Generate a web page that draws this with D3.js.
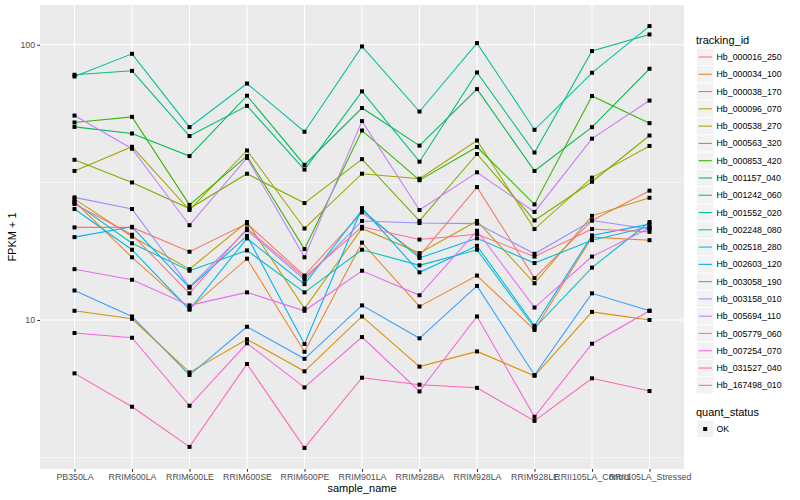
<!DOCTYPE html>
<html>
<head>
<meta charset="utf-8">
<title>FPKM + 1 by sample_name</title>
<style>
    body {
        margin: 0;
        background: #ffffff;
    }
    svg {
        display: block;
        font-family: "Liberation Sans", Arial, Helvetica, sans-serif;
    }
    .tick text {
        font-size: 8.8px;
        fill: #4d4d4d;
    }
    .tick line {
        stroke: #333333;
        stroke-width: 1.07px;
    }
    .axis-title, .legend-title {
        font-size: 11px;
        fill: #000000;
    }
    .legend-label {
        font-size: 8.8px;
        fill: #000000;
    }
</style>
</head>
<body>
<div id="chart"></div>

<script src="https://cdnjs.cloudflare.com/ajax/libs/d3/7.8.5/d3.min.js"></script>
<script>
    // categories on the x axis
    const samples = ["PB350LA", "RRIM600LA", "RRIM600LE", "RRIM600SE", "RRIM600PE", "RRIM901LA",
        "RRIM928BA", "RRIM928LA", "RRIM928LE", "RRII105LA_Control", "RRII105LA_Stressed"];

    const trackingIds = ["Hb_000016_250", "Hb_000034_100", "Hb_000038_170", "Hb_000096_070",
        "Hb_000538_270", "Hb_000563_320", "Hb_000853_420", "Hb_001157_040", "Hb_001242_060",
        "Hb_001552_020", "Hb_002248_080", "Hb_002518_280", "Hb_002603_120", "Hb_003058_190",
        "Hb_003158_010", "Hb_005694_110", "Hb_005779_060", "Hb_007254_070", "Hb_031527_040",
        "Hb_167498_010"];

    // FPKM + 1, one value per sample
    const hb_000016_250 = [21.7, 21.7, 17.7, 22.4, 14.5, 24.6, 17.1, 30.4, 14.2, 23.0, 29.5];
    const hb_000034_100 = [26.9, 16.9, 11.0, 16.7, 7.67, 19.1, 11.2, 14.5, 9.20, 20.0, 19.5];
    const hb_000038_170 = [10.8, 10.1, 6.45, 8.51, 6.51, 10.3, 6.77, 7.69, 6.27, 10.7, 10.0];
    const hb_000096_070 = [27.5, 20.1, 15.3, 22.7, 11.0, 21.5, 17.5, 22.9, 13.6, 23.9, 27.8];
    const hb_000538_270 = [34.8, 42.6, 25.1, 41.3, 21.5, 34.0, 32.6, 44.9, 21.4, 32.9, 42.9];
    const hb_000563_320 = [38.2, 31.6, 25.4, 34.0, 26.6, 38.4, 22.9, 40.1, 23.0, 31.8, 46.8];
    const hb_000853_420 = [52.2, 54.7, 26.2, 39.4, 18.1, 48.8, 32.2, 42.5, 26.3, 65.1, 51.9];
    const hb_001157_040 = [50.3, 47.6, 39.4, 65.3, 36.6, 58.9, 43.0, 69.0, 34.8, 50.2, 81.8];
    const hb_001242_060 = [77.8, 80.4, 46.6, 60.0, 35.2, 67.7, 37.6, 79.3, 40.6, 94.9, 109.0];
    const hb_001552_020 = [76.7, 92.7, 50.2, 72.3, 48.3, 98.6, 57.2, 101.4, 49.1, 79.1, 116.9];
    const hb_002248_080 = [26.7, 19.0, 15.1, 17.9, 12.6, 18.0, 15.8, 18.0, 9.35, 15.5, 22.7];
    const hb_002518_280 = [25.3, 18.0, 10.9, 19.8, 13.5, 25.1, 16.8, 19.8, 16.1, 19.5, 21.8];
    const hb_002603_120 = [20.0, 21.8, 13.1, 20.2, 8.18, 25.5, 14.9, 18.6, 9.53, 20.3, 22.3];
    const hb_003058_190 = [12.8, 10.3, 6.31, 9.45, 7.23, 11.3, 8.58, 13.3, 6.31, 12.5, 10.8];
    const hb_003158_010 = [27.9, 25.3, 13.2, 21.2, 14.0, 22.9, 22.5, 22.4, 17.4, 23.0, 21.4];
    const hb_005694_110 = [55.3, 41.9, 22.1, 38.8, 16.9, 52.8, 25.1, 34.4, 24.7, 45.6, 62.7];
    const hb_005779_060 = [15.3, 14.0, 11.3, 12.6, 10.8, 15.1, 12.3, 21.1, 11.1, 17.0, 21.6];
    const hb_007254_070 = [8.97, 8.62, 4.88, 8.23, 5.69, 8.67, 5.50, 10.3, 4.45, 8.20, 10.8];
    const hb_031527_040 = [6.40, 4.84, 3.46, 6.92, 3.43, 6.17, 5.82, 5.67, 4.30, 6.14, 5.52];
    const hb_167498_010 = [26.4, 20.4, 12.5, 21.5, 14.3, 21.8, 19.6, 20.5, 17.0, 21.4, 20.9];

    const seriesValues = [hb_000016_250, hb_000034_100, hb_000038_170, hb_000096_070,
        hb_000538_270, hb_000563_320, hb_000853_420, hb_001157_040, hb_001242_060,
        hb_001552_020, hb_002248_080, hb_002518_280, hb_002603_120, hb_003058_190,
        hb_003158_010, hb_005694_110, hb_005779_060, hb_007254_070, hb_031527_040,
        hb_167498_010];

    const yTicks = [10, 100];
    const yMinor = [Math.sqrt(10), Math.pow(10, 1.5)];

    // ggplot default hue palette for 20 groups
    const palette = ["#F8766D", "#EA8331", "#D89000", "#C09B00", "#A3A500", "#7CAE00", "#39B600",
        "#00BB4E", "#00BF7D", "#00C1A3", "#00BFC4", "#00BAE0", "#00B0F6", "#35A2FF", "#9590FF",
        "#C77CFF", "#E76BF3", "#FA62DB", "#FF62BC", "#FF6C91"];

    const series = trackingIds.map((id, i) => ({
        id: id,
        color: palette[i],
        points: samples.map((s, j) => ({ sample: s, value: seriesValues[i][j] }))
    }));

    // layout
    const W = 800, H = 500;
    const panel = { left: 40, right: 684, top: 5, bottom: 469 };

    const svg = d3.select("#chart")
        .append("svg")
        .attr("width", W)
        .attr("height", H);

    const x = d3.scalePoint()
        .domain(samples)
        .range([panel.left, panel.right])
        .padding(0.6);

    // log scale with 5% expansion in log space, like ggplot
    const allVals = seriesValues.flat();
    const lmin = Math.log10(d3.min(allVals));
    const lmax = Math.log10(d3.max(allVals));
    const pad = (lmax - lmin) * 0.05;
    const y = d3.scaleLog()
        .domain([Math.pow(10, lmin - pad), Math.pow(10, lmax + pad)])
        .range([panel.bottom, panel.top]);

    // panel background + grid
    svg.append("rect")
        .attr("x", panel.left)
        .attr("y", panel.top)
        .attr("width", panel.right - panel.left)
        .attr("height", panel.bottom - panel.top)
        .attr("fill", "#EBEBEB");

    svg.selectAll(".grid-minor")
        .data(yMinor)
        .enter().append("line")
        .attr("x1", panel.left).attr("x2", panel.right)
        .attr("y1", d => y(d)).attr("y2", d => y(d))
        .attr("stroke", "#ffffff").attr("stroke-width", 0.53);

    svg.selectAll(".grid-major-y")
        .data(yTicks)
        .enter().append("line")
        .attr("x1", panel.left).attr("x2", panel.right)
        .attr("y1", d => y(d)).attr("y2", d => y(d))
        .attr("stroke", "#ffffff").attr("stroke-width", 1.07);

    svg.selectAll(".grid-major-x")
        .data(samples)
        .enter().append("line")
        .attr("x1", d => x(d)).attr("x2", d => x(d))
        .attr("y1", panel.top).attr("y2", panel.bottom)
        .attr("stroke", "#ffffff").attr("stroke-width", 1.07);

    // lines
    const line = d3.line()
        .x(d => x(d.sample))
        .y(d => y(d.value));

    svg.append("g")
        .selectAll("path")
        .data(series)
        .enter().append("path")
        .attr("d", d => line(d.points))
        .attr("fill", "none")
        .attr("stroke", d => d.color)
        .attr("stroke-width", 1.07);

    // points (quant_status = OK, square)
    svg.append("g")
        .selectAll("rect")
        .data(series.flatMap(s => s.points))
        .enter().append("rect")
        .attr("x", d => x(d.sample) - 2)
        .attr("y", d => y(d.value) - 2)
        .attr("width", 4)
        .attr("height", 4)
        .attr("fill", "#000000");

    // axes
    const xAxis = svg.append("g")
        .attr("transform", `translate(0,${panel.bottom})`)
        .call(d3.axisBottom(x).tickSize(2.74).tickPadding(2.2));
    xAxis.select(".domain").remove();

    const yAxis = svg.append("g")
        .attr("transform", `translate(${panel.left},0)`)
        .call(d3.axisLeft(y).tickValues(yTicks).tickFormat(d3.format("d")).tickSize(2.74).tickPadding(2.2));
    yAxis.select(".domain").remove();
    svg.selectAll(".tick text").attr("font-family", null).attr("font-size", null);

    svg.append("text")
        .attr("class", "axis-title")
        .attr("x", (panel.left + panel.right) / 2)
        .attr("y", 491.5)
        .attr("text-anchor", "middle")
        .text("sample_name");

    svg.append("text")
        .attr("class", "axis-title")
        .attr("transform", `translate(15.5,${(panel.top + panel.bottom) / 2}) rotate(-90)`)
        .attr("text-anchor", "middle")
        .text("FPKM + 1");

    // legend: tracking_id
    const legend = svg.append("g").attr("transform", "translate(696,0)");
    const keyH = 17.28;
    const firstKey = 57;

    legend.append("text")
        .attr("class", "legend-title")
        .attr("x", 0)
        .attr("y", 43.5)
        .text("tracking_id");

    const keys = legend.selectAll(".key")
        .data(series)
        .enter().append("g")
        .attr("transform", (d, i) => `translate(0,${firstKey + i * keyH})`);

    keys.append("rect")
        .attr("x", 1)
        .attr("y", -keyH / 2 + 0.5)
        .attr("width", 16.3)
        .attr("height", keyH - 1)
        .attr("fill", "#F2F2F2");

    keys.append("line")
        .attr("x1", 2.6).attr("x2", 15.8)
        .attr("y1", 0).attr("y2", 0)
        .attr("stroke", d => d.color)
        .attr("stroke-width", 1.07);

    keys.append("text")
        .attr("class", "legend-label")
        .attr("x", 20.5)
        .attr("y", 0)
        .attr("dy", "0.35em")
        .text(d => d.id);

    // legend: quant_status
    legend.append("text")
        .attr("class", "legend-title")
        .attr("x", 0)
        .attr("y", 415.5)
        .text("quant_status");

    const okKey = legend.append("g").attr("transform", "translate(0,429)");
    okKey.append("rect")
        .attr("x", 1)
        .attr("y", -keyH / 2 + 0.5)
        .attr("width", 16.3)
        .attr("height", keyH - 1)
        .attr("fill", "#F2F2F2");
    okKey.append("rect")
        .attr("x", 7.2).attr("y", -2)
        .attr("width", 4).attr("height", 4)
        .attr("fill", "#000000");
    okKey.append("text")
        .attr("class", "legend-label")
        .attr("x", 20.5)
        .attr("y", 0)
        .attr("dy", "0.35em")
        .text("OK");
</script>
</body>
</html>
